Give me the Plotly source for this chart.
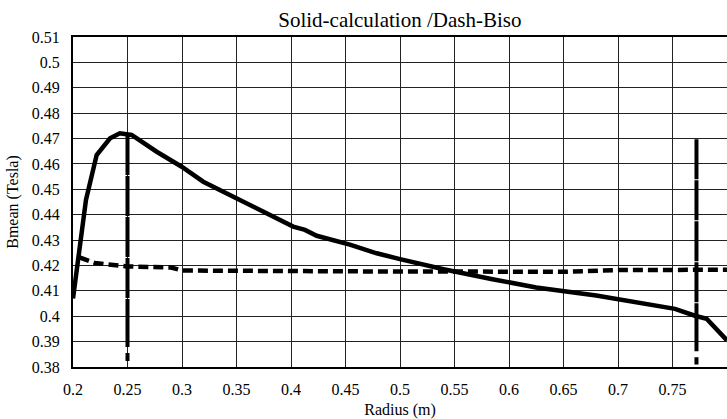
import plotly.graph_objects as go

# Solid line: calculation
calc_r = [0.2, 0.2119, 0.2217, 0.234, 0.243, 0.2538, 0.2768, 0.2997, 0.3195, 0.347, 0.365,
          0.402, 0.4128, 0.4236, 0.454, 0.4786, 0.5, 0.54, 0.586, 0.625, 0.68, 0.72,
          0.7523, 0.7706, 0.7813, 0.8]
calc_b = [0.407, 0.4458, 0.4635, 0.4701, 0.4721, 0.4714, 0.4648, 0.4589, 0.453, 0.4471, 0.4432,
          0.4353, 0.434, 0.4317, 0.4282, 0.4248, 0.4225, 0.4185, 0.4145, 0.4113, 0.4082, 0.4055,
          0.4029, 0.4002, 0.399, 0.3905]

# Dashed line: Biso
biso_r = [0.206, 0.22, 0.25, 0.29, 0.30, 0.35, 0.4, 0.45, 0.5, 0.55, 0.6, 0.65, 0.7, 0.75, 0.8]
biso_b = [0.4232, 0.421, 0.4196, 0.4192, 0.418, 0.4178, 0.4177, 0.4176, 0.4176, 0.4176,
          0.4176, 0.4175, 0.4182, 0.4182, 0.4183]

# Vertical dash-dot markers
marker_r = [0.25, 0.772]
marker_top = [0.4714, 0.4697]
marker_bottom = [0.381, 0.381]

x_ticks = [0.2, 0.25, 0.3, 0.35, 0.4, 0.45, 0.5, 0.55, 0.6, 0.65, 0.7, 0.75]
x_labels = ["0.2", "0.25", "0.3", "0.35", "0.4", "0.45", "0.5", "0.55", "0.6", "0.65", "0.7", "0.75"]
y_ticks = [0.38, 0.39, 0.4, 0.41, 0.42, 0.43, 0.44, 0.45, 0.46, 0.47, 0.48, 0.49, 0.5, 0.51]
y_labels = ["0.38", "0.39", "0.4", "0.41", "0.42", "0.43", "0.44", "0.45", "0.46", "0.47",
            "0.48", "0.49", "0.5", "0.51"]

FONT = "'Liberation Serif', 'Times New Roman', 'DejaVu Serif', serif"

fig = go.Figure()

fig.add_trace(go.Scatter(x=calc_r, y=calc_b, mode="lines",
                         line=dict(color="black", width=4.5), showlegend=False))
fig.add_trace(go.Scatter(x=biso_r, y=biso_b, mode="lines",
                         line=dict(color="black", width=4.5, dash="10px,5px"), showlegend=False))

vdash = ",".join(["40px,1px"] * 4) + ",48px,6px,8px,60px"
for r, top, bot in zip(marker_r, marker_top, marker_bottom):
    fig.add_trace(go.Scatter(x=[r, r], y=[top, bot], mode="lines",
                             line=dict(color="black", width=4, dash=vdash), showlegend=False))

fig.update_layout(
    width=727, height=419,
    margin=dict(l=73, r=0, t=37, b=52),
    paper_bgcolor="white", plot_bgcolor="white",
    font=dict(family=FONT, size=16, color="black"),
    title=dict(text="Solid-calculation /Dash-Biso", x=0.55, xanchor="center",
               y=0.952, yanchor="middle", font=dict(family=FONT, size=21, color="black")),
    showlegend=False,
)

fig.update_xaxes(
    range=[0.2, 0.8], tickvals=x_ticks, ticktext=x_labels,
    showgrid=True, gridcolor="#222", gridwidth=1,
    showline=True, linecolor="black", linewidth=2, mirror=True,
    ticks="", ticklabelstandoff=7, zeroline=False,
    tickfont=dict(family=FONT, size=16),
    title=dict(text="Radius (m)", font=dict(family=FONT, size=16), standoff=10),
)
fig.update_yaxes(
    range=[0.38, 0.51], tickvals=y_ticks, ticktext=y_labels,
    showgrid=True, gridcolor="#222", gridwidth=1,
    showline=True, linecolor="black", linewidth=2,
    ticks="", ticklabelstandoff=8, zeroline=False,
    tickfont=dict(family=FONT, size=16),
    title=dict(text="Bmean (Tesla)", font=dict(family=FONT, size=16), standoff=9),
)

fig.write_html("out.html")
